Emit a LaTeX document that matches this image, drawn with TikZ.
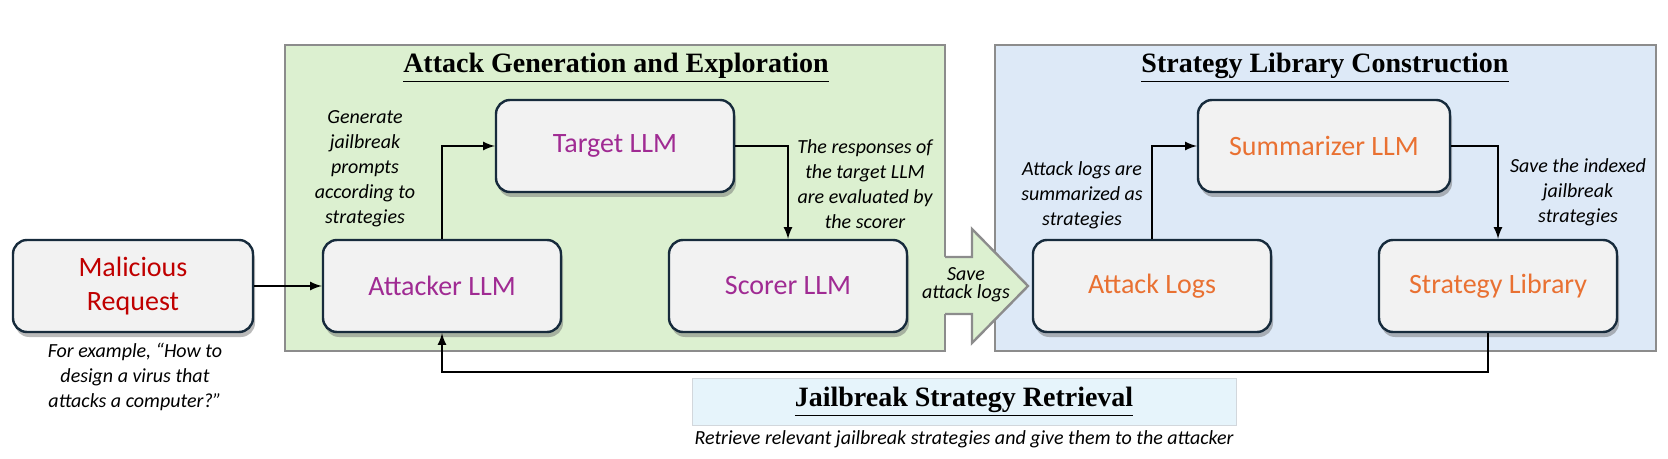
\documentclass[tikz,border=0pt]{standalone}
\usepackage{fontspec}
\setmainfont{Carlito}
\newfontfamily\titlefont{Liberation Serif}
\usepackage{tikz}
\usetikzlibrary{arrows,shapes,shadows}

\definecolor{greenbg}{RGB}{220,240,208}
\definecolor{bluebg}{RGB}{221,233,247}
\definecolor{retbg}{RGB}{230,244,251}
\definecolor{retline}{RGB}{210,215,220}
\definecolor{boxfill}{RGB}{242,242,242}
\definecolor{boxline}{RGB}{23,43,60}
\definecolor{panelline}{RGB}{140,140,140}
\definecolor{reqred}{RGB}{192,0,0}
\definecolor{llmpurple}{RGB}{160,43,147}
\definecolor{liborange}{RGB}{233,113,50}

\begin{document}
\begin{tikzpicture}[x=0.5pt,y=-0.5pt,
    llm/.style={draw=boxline, line width=1.2pt, fill=boxfill, rounded corners=7pt,
        minimum width=119pt, minimum height=46pt, align=center,
        font=\fontsize{14}{17}\selectfont,
        drop shadow={shadow xshift=1pt, shadow yshift=-2.5pt, fill=black!60, opacity=0.45}},
    note/.style={align=center, font=\fontsize{10}{12.5}\selectfont\itshape},
    title/.style={font=\fontsize{14}{17}\selectfont\titlefont\bfseries},
    panel/.style={draw=panelline, line width=1.2pt},
    link/.style={-latex, line width=1pt}]
    \useasboundingbox (0,0) rectangle (1668,459);

    % panels
    \draw[panel, fill=greenbg] (285,45) rectangle (945,351);
    \draw[panel, fill=bluebg] (995,45) rectangle (1656,351);
    \node[title] (gentitle) at (616,68) {\underline{Attack Generation and Exploration}};
    \node[title] (libtitle) at (1325,68) {\underline{Strategy Library Construction}};

    % boxes
    \node[llm, text=reqred, minimum width=120pt] (request) at (133,286) {Malicious\\Request};
    \node[llm, text=llmpurple] (attacker) at (442,286) {Attacker LLM};
    \node[llm, text=llmpurple] (target) at (615,146) {Target LLM};
    \node[llm, text=llmpurple] (scorer) at (788,286) {Scorer LLM};
    \node[llm, text=liborange] (logs) at (1152,286) {Attack Logs};
    \node[llm, text=liborange, minimum width=126pt] (summarizer) at (1324,146) {Summarizer LLM};
    \node[llm, text=liborange] (library) at (1498,286) {Strategy Library};

    % save arrow
    \fill[greenbg] (943,257) -- (972,257) -- (972,229) -- (1028,286) -- (972,343) -- (972,314) -- (943,314) -- cycle;
    \draw[panelline, line width=1.2pt] (945,257) -- (972,257) -- (972,229) -- (1028,286) -- (972,343) -- (972,314) -- (945,314);
    \node[note, font=\fontsize{10}{9}\selectfont\itshape] (savelogs) at (966,285) {Save\\attack logs};

    % notes
    \node[note] (gennote) at (365,169) {Generate\\jailbreak\\prompts\\according to\\strategies};
    \node[note] (scorenote) at (865,184) {The responses of\\the target LLM\\are evaluated by\\the scorer};
    \node[note] (sumnote) at (1082,195) {Attack logs are\\summarized as\\strategies};
    \node[note] (savenote) at (1578,192) {Save the indexed\\jailbreak\\strategies};
    \node[note] (example) at (135,377) {For example, “How to\\design a virus that\\attacks a computer?”};

    % links
    \draw[link] (request) -- (attacker);
    \draw[link] (attacker.north) |- (target.west);
    \draw[link] (target.east) -| (scorer.north);
    \draw[link] (logs.north) |- (summarizer.west);
    \draw[link] (summarizer.east) -| (library.north);
    \draw[link] ([xshift=-5pt]library.south) -- ++(0,39) -| (attacker.south);

    % retrieval
    \node[title, draw=retline, fill=retbg, minimum width=272pt, minimum height=23.5pt] (retrieval) at (964,402) {\underline{Jailbreak Strategy Retrieval}};
    \node[note] (retnote) at (964,439) {Retrieve relevant jailbreak strategies and give them to the attacker};
\end{tikzpicture}
\end{document}
